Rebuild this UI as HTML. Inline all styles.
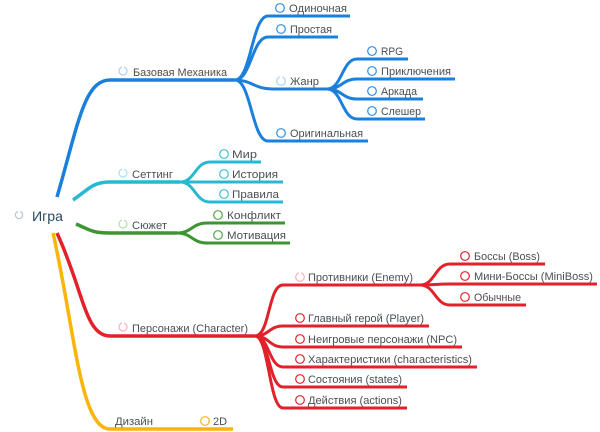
<!DOCTYPE html>
<html>
<head>
<meta charset="utf-8">
<style>
html,body{margin:0;padding:0;background:#fff;}
svg{display:block;}
text{font-family:"Liberation Sans","Noto Sans CJK SC",sans-serif;font-size:11px;fill:#4a4f55;}
.b{stroke:#1a80dc;}
.c{stroke:#27b9d3;}
.g{stroke:#3b9632;}
.r{stroke:#e2222b;}
.y{stroke:#f9b50b;}
path{fill:none;stroke-width:3;stroke-linecap:butt;}
.m{stroke-width:3.5;}
circle{fill:#fff;stroke-width:1.2;}
</style>
</head>
<body>
<svg width="600" height="432" viewBox="0 0 600 432" xmlns="http://www.w3.org/2000/svg">
<rect width="600" height="432" fill="#fff"/>

<!-- Blue -->
<path class="b m" d="M57,197 C78,125 84,80 110,80 H235"/>
<path class="b" d="M235,80 C251,80 252,16 268,16 H350"/>
<path class="b" d="M235,80 C251,80 252,37 268,37 H338"/>
<path class="b" d="M235,80 C251,80 255,89 272,89 H327"/>
<path class="b" d="M235,80 C251,80 252,141 268,141 H368"/>
<path class="b" d="M327,89 C342,89 342,59 357,59 H408"/>
<path class="b" d="M327,89 C342,89 342,79 357,79 H455"/>
<path class="b" d="M327,89 C342,89 342,99 357,99 H423"/>
<path class="b" d="M327,89 C342,89 342,119 357,119 H425"/>

<!-- Cyan -->
<path class="c m" d="M73,200 C88,190 92,182 110,182 H180"/>
<path class="c" d="M180,182 C195,182 195,162 210,162 H261"/>
<path class="c" d="M180,182 H283"/>
<path class="c" d="M180,182 C195,182 195,202 210,202 H283"/>

<!-- Green -->
<path class="g m" d="M76,224 C90,230 92,233 110,233 H177"/>
<path class="g" d="M177,233 C192,233 192,223 207,223 H285"/>
<path class="g" d="M177,233 C192,233 192,243 207,243 H290"/>

<!-- Red -->
<path class="r m" d="M57,233 C84,292 85,336 110,336 H255"/>
<path class="r" d="M255,336 C270,336 268,285 283,285 H420"/>
<path class="r" d="M255,336 C269,336 269,326 283,326 H429"/>
<path class="r" d="M255,336 C269,336 269,347 283,347 H462"/>
<path class="r" d="M255,336 C269,336 269,367 283,367 H477"/>
<path class="r" d="M255,336 C269,336 269,387 283,387 H407"/>
<path class="r" d="M255,336 C269,336 269,408 283,408 H407"/>
<path class="r" d="M420,285 C435,285 435,264 450,264 H545"/>
<path class="r" d="M420,285 C435,285 435,284 450,284 H597"/>
<path class="r" d="M420,285 C435,285 435,305 450,305 H526"/>

<!-- Yellow -->
<path class="y m" d="M53,233 C75,330 80,429 110,429 H233"/>

<!-- Root -->
<circle cx="19" cy="215" r="3.6" stroke="#b9c4cb"/>
<circle cx="19" cy="211.4" r="1.2" fill="#2b4a5e" stroke="none"/>
<text x="32" y="221" style="font-size:14px;fill:#2b4a5e" textLength="31" lengthAdjust="spacingAndGlyphs">Игра</text>

<!-- Level 1 progress circles -->
<circle cx="123" cy="71" r="4" stroke="#a8d2f4"/>
<circle cx="123" cy="67" r="1.2" fill="#1a80dc" stroke="none"/>
<text x="133" y="76" textLength="94" lengthAdjust="spacingAndGlyphs">Базовая Механика</text>

<circle cx="123" cy="173" r="4" stroke="#a9e2ec"/>
<circle cx="123" cy="169" r="1.2" fill="#27b9d3" stroke="none"/>
<text x="132" y="178" textLength="41" lengthAdjust="spacingAndGlyphs">Сеттинг</text>

<circle cx="123" cy="224" r="4" stroke="#b5dbb1"/>
<circle cx="123" cy="220" r="1.2" fill="#3b9632" stroke="none"/>
<text x="132" y="229" textLength="35" lengthAdjust="spacingAndGlyphs">Сюжет</text>

<circle cx="123" cy="327" r="4" stroke="#f5b3b5"/>
<circle cx="123" cy="323" r="1.2" fill="#e2222b" stroke="none"/>
<text x="132" y="332" textLength="116" lengthAdjust="spacingAndGlyphs">Персонажи (Character)</text>

<text x="115" y="425" textLength="38" lengthAdjust="spacingAndGlyphs">Дизайн</text>
<circle cx="205" cy="421" r="4.3" stroke="#f9b50b"/>
<text x="213" y="425" textLength="14" lengthAdjust="spacingAndGlyphs">2D</text>

<!-- Blue children -->
<circle cx="280" cy="8" r="4.3" stroke="#2f8ee0"/>
<text x="289" y="12" textLength="58" lengthAdjust="spacingAndGlyphs">Одиночная</text>
<circle cx="281" cy="29" r="4.3" stroke="#2f8ee0"/>
<text x="290" y="33" textLength="42" lengthAdjust="spacingAndGlyphs">Простая</text>
<circle cx="281" cy="81" r="4.3" stroke="#a8d2f4"/>
<circle cx="281" cy="76.7" r="1.2" fill="#1a80dc" stroke="none"/>
<text x="290" y="85" textLength="29" lengthAdjust="spacingAndGlyphs">Жанр</text>
<circle cx="281" cy="133" r="4.3" stroke="#2f8ee0"/>
<text x="290" y="137" textLength="73" lengthAdjust="spacingAndGlyphs">Оригинальная</text>

<circle cx="372" cy="51" r="4.3" stroke="#2f8ee0"/>
<text x="381" y="55" textLength="22" lengthAdjust="spacingAndGlyphs">RPG</text>
<circle cx="372" cy="71" r="4.3" stroke="#2f8ee0"/>
<text x="381" y="75" textLength="70" lengthAdjust="spacingAndGlyphs">Приключения</text>
<circle cx="372" cy="91" r="4.3" stroke="#2f8ee0"/>
<text x="381" y="95" textLength="36" lengthAdjust="spacingAndGlyphs">Аркада</text>
<circle cx="372" cy="111" r="4.3" stroke="#2f8ee0"/>
<text x="381" y="115" textLength="40" lengthAdjust="spacingAndGlyphs">Слешер</text>

<!-- Cyan children -->
<circle cx="224" cy="154" r="4.3" stroke="#3cc2d9"/>
<text x="232" y="158" textLength="25" lengthAdjust="spacingAndGlyphs">Мир</text>
<circle cx="224" cy="174" r="4.3" stroke="#3cc2d9"/>
<text x="232" y="178" textLength="46" lengthAdjust="spacingAndGlyphs">История</text>
<circle cx="224" cy="194" r="4.3" stroke="#3cc2d9"/>
<text x="232" y="198" textLength="47" lengthAdjust="spacingAndGlyphs">Правила</text>

<!-- Green children -->
<circle cx="218" cy="215" r="4.3" stroke="#4fa347"/>
<text x="227" y="219" textLength="54" lengthAdjust="spacingAndGlyphs">Конфликт</text>
<circle cx="218" cy="235" r="4.3" stroke="#4fa347"/>
<text x="227" y="239" textLength="59" lengthAdjust="spacingAndGlyphs">Мотивация</text>

<!-- Red children -->
<circle cx="300" cy="277" r="4.3" stroke="#f5b3b5"/>
<circle cx="300" cy="272.7" r="1.2" fill="#e2222b" stroke="none"/>
<text x="308" y="281" textLength="105" lengthAdjust="spacingAndGlyphs">Противники (Enemy)</text>
<circle cx="465" cy="256" r="4.3" stroke="#e2222b"/>
<text x="474" y="260" textLength="66" lengthAdjust="spacingAndGlyphs">Боссы (Boss)</text>
<circle cx="465" cy="276" r="4.3" stroke="#e2222b"/>
<text x="474" y="280" textLength="119" lengthAdjust="spacingAndGlyphs">Мини-Боссы (MiniBoss)</text>
<circle cx="465" cy="297" r="4.3" stroke="#e2222b"/>
<text x="474" y="301" textLength="47" lengthAdjust="spacingAndGlyphs">Обычные</text>

<circle cx="300" cy="318" r="4.3" stroke="#e2222b"/>
<text x="308" y="322" textLength="116" lengthAdjust="spacingAndGlyphs">Главный герой (Player)</text>
<circle cx="300" cy="339" r="4.3" stroke="#e2222b"/>
<text x="308" y="343" textLength="149" lengthAdjust="spacingAndGlyphs">Неигровые персонажи (NPC)</text>
<circle cx="300" cy="359" r="4.3" stroke="#e2222b"/>
<text x="308" y="363" textLength="164" lengthAdjust="spacingAndGlyphs">Характеристики (characteristics)</text>
<circle cx="300" cy="379" r="4.3" stroke="#e2222b"/>
<text x="308" y="383" textLength="94" lengthAdjust="spacingAndGlyphs">Состояния (states)</text>
<circle cx="300" cy="400" r="4.3" stroke="#e2222b"/>
<text x="308" y="404" textLength="94" lengthAdjust="spacingAndGlyphs">Действия (actions)</text>
</svg>
</body>
</html>
